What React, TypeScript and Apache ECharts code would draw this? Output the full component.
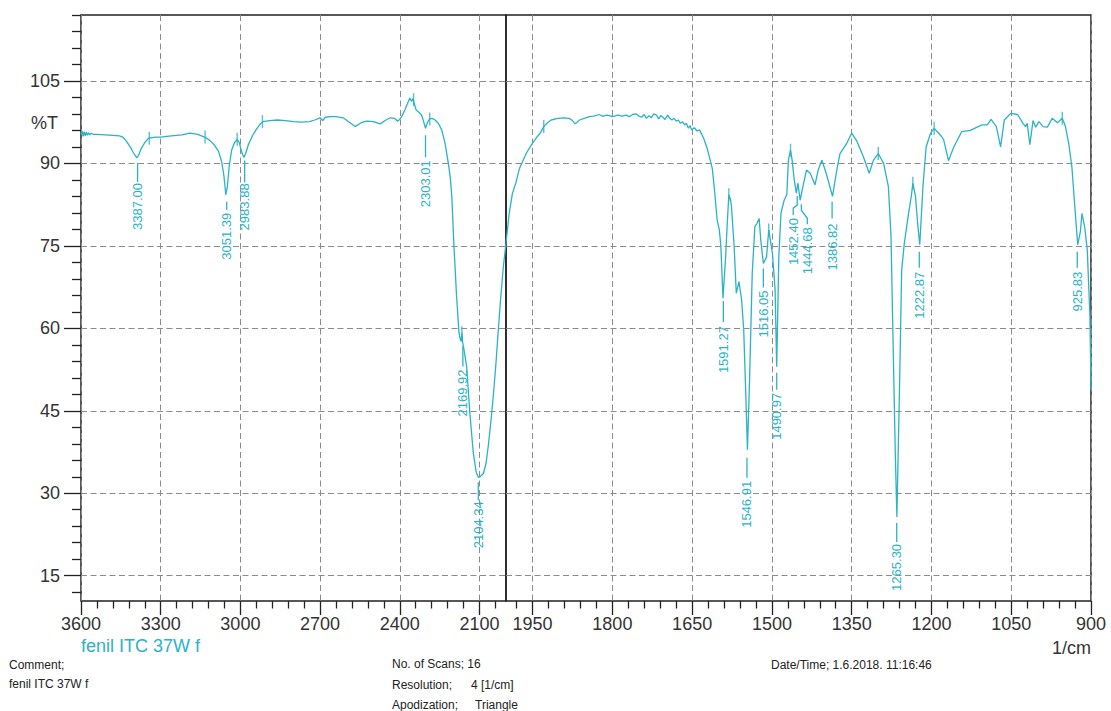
import React, { useEffect, useRef } from 'react';
import * as echarts from 'echarts';

const TEAL = '#2ab3c7';
const FONT = '"Liberation Sans", Arial, sans-serif';

// Spectrum, high-wavenumber part (3600 → 2000 cm-1)
const leftWavenumbers = [
  3600, 3596, 3592, 3588, 3584, 3580, 3576, 3572, 3567, 3562, 3555, 3540, 3510, 3480, 3455, 3443,
  3430, 3415, 3402, 3390, 3384, 3375, 3360, 3345, 3320, 3300, 3260, 3220, 3190, 3160, 3135, 3115,
  3097, 3082, 3070, 3062, 3055, 3049, 3042, 3033, 3022, 3012, 3004, 2996, 2987, 2980, 2970, 2955,
  2940, 2925, 2915, 2890, 2860, 2830, 2800, 2770, 2740, 2720, 2700, 2690, 2680, 2660, 2640, 2613,
  2590, 2568, 2545, 2524, 2500, 2474, 2455, 2436, 2420, 2409, 2400, 2392, 2380, 2370, 2362, 2356,
  2350, 2345, 2338, 2328, 2318, 2310, 2303, 2296, 2288, 2278, 2267, 2255, 2242, 2230, 2217, 2210,
  2204, 2196, 2186, 2177, 2172, 2169, 2166, 2163, 2156, 2148, 2136, 2123, 2112, 2104, 2098, 2085,
  2075, 2067, 2058, 2048, 2038, 2029, 2020, 2010, 2000,
];
const leftTransmittance = [
  95.3, 95.9, 94.9, 95.8, 95.0, 95.7, 95.1, 95.6, 95.2, 95.5, 95.3, 95.3, 95.2, 95.1, 95.0, 94.8,
  94.1, 93.0, 91.9, 91.0, 91.4, 92.5, 93.8, 94.6, 94.8, 94.8, 95.0, 95.2, 95.5, 95.3, 94.8, 94.2,
  93.3, 92.2, 90.2, 87.8, 84.3, 85.8, 89.5, 92.4, 93.8, 94.4, 93.8, 92.2, 91.1, 91.8, 93.4, 95.0,
  96.2, 97.2, 97.6, 97.8, 97.9, 97.8, 97.6, 97.5, 97.6, 97.9, 98.3, 97.8, 98.4, 98.5, 98.5, 98.3,
  97.5, 96.7, 97.4, 97.7, 97.6, 97.2, 97.8, 98.3, 98.2, 97.7, 98.0, 98.6, 99.8, 101.0, 101.9, 101.3,
  101.8, 100.8, 99.7, 99.3, 98.8, 97.6, 96.4, 97.4, 98.1, 98.2, 97.9, 97.3, 96.1, 93.8, 90.0, 87.5,
  84.0, 75.0, 65.8, 59.2, 58.0, 57.6, 59.2, 57.4, 55.5, 53.0, 44.5, 37.3, 33.8, 32.9, 33.0, 33.6,
  35.5, 38.5, 42.5, 47.6, 53.5, 59.7, 65.5, 71.2, 75.5,
];

// Spectrum, low-wavenumber part (2000 → 900 cm-1)
const rightWavenumbers = [
  2000, 1994, 1988, 1981, 1975, 1969, 1962, 1956, 1950, 1941, 1935, 1929, 1922, 1915, 1903, 1892,
  1881, 1875, 1870, 1865, 1862, 1850, 1843, 1835, 1825, 1818, 1810, 1799, 1790, 1782, 1774, 1768,
  1762, 1755, 1750, 1745, 1740, 1736, 1731, 1727, 1722, 1717, 1713, 1709, 1705, 1701, 1696, 1692,
  1688, 1684, 1680, 1676, 1672, 1668, 1664, 1661, 1657, 1654, 1651, 1646, 1641, 1636, 1628, 1622,
  1616, 1612, 1608, 1603, 1599, 1596, 1592, 1587, 1584, 1581, 1578, 1576, 1571, 1567, 1562, 1557,
  1553, 1549, 1546, 1542, 1537, 1532, 1528, 1524, 1521, 1516, 1510, 1506, 1503, 1499, 1494, 1491,
  1487, 1483, 1477, 1472, 1469, 1465, 1462, 1458, 1454, 1451, 1447, 1441, 1435, 1428, 1419, 1413,
  1406, 1397, 1386, 1378, 1372, 1359, 1350, 1340, 1328, 1317, 1309, 1300, 1290, 1281, 1276, 1273,
  1268, 1265, 1260, 1256, 1251, 1243, 1238, 1235, 1230, 1226, 1222, 1216, 1210, 1202, 1195, 1181,
  1177, 1168, 1158, 1143, 1127, 1105, 1095, 1088, 1078, 1070, 1063, 1051, 1038, 1028, 1023, 1020,
  1015, 1009, 1004, 998, 990, 982, 973, 963, 954, 948, 942, 936, 929, 925, 920, 917,
  912, 907, 902, 900,
];
const rightTransmittance = [
  75.5, 80.9, 84.5, 86.6, 89.0, 90.3, 91.8, 92.8, 93.7, 94.9, 95.6, 96.7, 97.4, 97.9, 98.2, 98.3,
  98.2, 97.8, 97.2, 97.6, 97.9, 98.3, 98.5, 98.6, 98.9, 98.6, 98.8, 98.5, 98.8, 98.6, 98.8, 98.5,
  98.9, 99.0, 98.6, 98.4, 98.9, 98.2, 98.7, 98.3, 99.0, 98.8, 98.1, 98.7, 98.4, 98.0, 98.8, 98.2,
  97.9, 98.2, 97.7, 97.9, 97.3, 97.6, 97.0, 97.3, 96.4, 96.9, 96.1, 96.5, 95.9, 96.1, 94.5, 92.8,
  90.6, 89.0, 85.2, 79.7, 78.0, 75.0, 65.5, 73.0, 79.0, 84.3, 83.5, 82.1, 74.9, 66.4, 68.5, 65.2,
  59.7, 47.6, 37.9, 50.6, 70.0, 78.5, 79.1, 80.0, 76.1, 71.8, 73.0, 77.9, 76.1, 73.6, 67.0, 53.0,
  73.0, 80.9, 83.3, 84.3, 90.6, 92.4, 90.6, 87.0, 84.6, 86.4, 83.3, 86.1, 88.8, 88.2, 86.1, 88.8,
  90.6, 87.9, 84.0, 88.8, 91.8, 93.7, 95.5, 94.0, 91.2, 88.2, 90.6, 91.8, 90.0, 85.8, 76.7, 61.5,
  37.3, 25.7, 49.4, 70.6, 75.5, 80.9, 84.0, 86.4, 84.0, 79.1, 75.2, 85.8, 93.0, 95.4, 96.4, 94.9,
  94.3, 90.5, 93.0, 95.8, 96.0, 97.0, 97.0, 98.0, 96.7, 93.0, 97.9, 99.1, 98.9, 97.3, 96.7, 97.3,
  93.4, 97.8, 96.6, 97.6, 96.7, 96.6, 98.2, 97.4, 98.2, 96.7, 93.7, 89.4, 80.3, 75.2, 77.6, 80.9,
  78.5, 74.3, 62.1, 48.8,
];

// Peak picks
const peakLabels = [
  '3387.00', '3051.39', '2983.88', '2303.01', '2169.92', '2104.34',
  '1591.27', '1546.91', '1516.05', '1490.97', '1452.40', '1444.68', '1386.82', '1265.30', '1222.87', '925.83',
];
const peakWavenumbers = [
  3387.0, 3051.39, 2983.88, 2303.01, 2169.92, 2104.34,
  1591.27, 1546.91, 1516.05, 1490.97, 1452.4, 1444.68, 1386.82, 1265.3, 1222.87, 925.83,
];
const peakTransmittance = [
  91.0, 84.3, 91.1, 96.4, 57.6, 32.9,
  65.5, 37.9, 71.8, 53.0, 84.6, 83.3, 84.0, 25.7, 75.2, 75.2,
];

// Integration marks on the curve
const leftMarkWavenumbers = [3343, 3133, 3012, 2917, 2348, 2287, 2166];
const leftMarkTransmittance = [94.6, 94.8, 94.4, 97.6, 101.6, 98.1, 59.2];
const rightMarkWavenumbers = [1929, 1581, 1506, 1465, 1300, 1235, 1195, 954];
const rightMarkTransmittance = [96.7, 84.3, 77.9, 92.4, 91.8, 86.4, 96.4, 98.2];

// Axis ticks
const leftTickLabels = [3600, 3300, 3000, 2700, 2400, 2100];
const rightTickLabels = [1950, 1800, 1650, 1500, 1350, 1200, 1050, 900];
const leftMinorTicks = [
  3540, 3480, 3420, 3360, 3240, 3180, 3120, 3060, 2940, 2880, 2820, 2760,
  2640, 2580, 2520, 2460, 2340, 2280, 2220, 2160, 2040,
];
const rightMinorTicks = [
  1980, 1920, 1890, 1860, 1830, 1770, 1740, 1710, 1680, 1620, 1590, 1560, 1530,
  1470, 1440, 1410, 1380, 1320, 1290, 1260, 1230, 1170, 1140, 1110, 1080, 1020, 990, 960, 930,
];
const yTickLabels = [15, 30, 45, 60, 75, 90, 105];
const yMinorTicks = [
  12, 18, 21, 24, 27, 33, 36, 39, 42, 48, 51, 54, 57, 63, 66, 69, 72, 78, 81, 84, 87,
  93, 96, 99, 102, 108, 111, 114, 117,
];

// Label leader layout (pixel offsets relative to each peak point) – presentation only
const peakLabelLayout = [
  { line: [[0, 5], [0, 24]], tx: 0, ty: 25 },
  { line: [[0, 7], [0, 15]], tx: 0, ty: 18 },
  { line: [[0, 3], [0, 25]], tx: 0, ty: 26 },
  { line: [[0, 7], [0, 29]], tx: 0, ty: 32 },
  { line: [[2, 5], [2, 25]], tx: 2, ty: 28 },
  { line: [[0, 5], [0, 23]], tx: 0, ty: 24 },
  { line: [[0, 3], [0, 24]], tx: 0, ty: 28 },
  { line: [[0, 8], [0, 28]], tx: 0, ty: 31 },
  { line: [[0, 5], [0, 24]], tx: 0, ty: 27 },
  { line: [[0, 6], [0, 23]], tx: 0, ty: 26 },
  { line: [[0, 3], [0, 12], [-4, 15], [-4, 22]], tx: -4, ty: 25 },
  { line: [[0, 4], [0, 10], [6, 18], [6, 24]], tx: 6, ty: 27 },
  { line: [[0, 5], [0, 22]], tx: 0, ty: 27 },
  { line: [[0, 6], [0, 25]], tx: 0, ty: 27 },
  { line: [[0, 7], [0, 23]], tx: 0, ty: 27 },
  { line: [[0, 7], [0, 23]], tx: 0, ty: 27 },
];

const Y_MIN = 10.4;
const Y_MAX = 117;

function buildOption() {
  const pairs = (xs: number[], ys: number[]) => xs.map((x, i) => [x, ys[i]]);
  const peakIdx = peakWavenumbers.map((_, i) => i);
  const leftPeaks = peakIdx.filter((i) => peakWavenumbers[i] >= 2000).map((i) => [peakWavenumbers[i], peakTransmittance[i], i]);
  const rightPeaks = peakIdx.filter((i) => peakWavenumbers[i] < 2000).map((i) => [peakWavenumbers[i], peakTransmittance[i], i]);

  const renderPeak = (params: any, api: any) => {
    const i = api.value(2);
    const p = api.coord([api.value(0), api.value(1)]);
    const L = peakLabelLayout[i];
    return {
      type: 'group',
      children: [
        {
          type: 'polyline',
          shape: { points: L.line.map(([dx, dy]) => [p[0] + dx, p[1] + dy]) },
          style: { stroke: TEAL, lineWidth: 1.3, fill: null },
        },
        {
          type: 'text',
          x: p[0] + L.tx,
          y: p[1] + L.ty,
          rotation: Math.PI / 2,
          style: {
            text: peakLabels[i],
            fill: TEAL,
            fontSize: 13,
            fontFamily: FONT,
            align: 'right',
            verticalAlign: 'middle',
          },
        },
      ],
    };
  };

  const splitLine = { show: true, lineStyle: { color: '#8c8c8c', width: 1, type: [6, 3.5] } };
  const labelStyle = { color: '#333', fontSize: 18, fontFamily: FONT };

  const textEl = (x: number, y: number, text: string, opts: any = {}) => ({
    type: 'text',
    x,
    y,
    silent: true,
    style: {
      text,
      fill: opts.fill || '#222',
      fontSize: opts.fontSize || 12,
      fontFamily: FONT,
      align: opts.align || 'left',
      verticalAlign: 'middle',
    },
  });

  return {
    animation: false,
    backgroundColor: '#ffffff',
    grid: [
      { left: 81, top: 15, width: 425, height: 586, show: true, borderColor: '#222', borderWidth: 1.5, backgroundColor: 'transparent' },
      { left: 506, top: 15, width: 585, height: 586, show: true, borderColor: '#222', borderWidth: 1.5, backgroundColor: 'transparent' },
    ],
    xAxis: [
      {
        type: 'value', gridIndex: 0, min: 2000, max: 3600, inverse: true, position: 'bottom',
        axisLine: { show: false },
        axisTick: { show: true, length: 14, customValues: leftTickLabels, lineStyle: { color: '#222', width: 1.3 } },
        axisLabel: { customValues: leftTickLabels, margin: 14, formatter: (v: number) => String(v), ...labelStyle },
        splitLine,
      },
      {
        type: 'value', gridIndex: 1, min: 900, max: 2000, inverse: true, position: 'bottom',
        axisLine: { show: false },
        axisTick: { show: true, length: 14, customValues: rightTickLabels, lineStyle: { color: '#222', width: 1.3 } },
        axisLabel: { customValues: rightTickLabels, margin: 14, formatter: (v: number) => String(v), ...labelStyle },
        splitLine,
      },
      {
        type: 'value', gridIndex: 0, min: 2000, max: 3600, inverse: true, position: 'bottom',
        axisLine: { show: false },
        axisTick: { show: true, length: 7.5, customValues: leftMinorTicks, lineStyle: { color: '#222', width: 1.3 } },
        axisLabel: { show: false },
        splitLine: { show: false },
      },
      {
        type: 'value', gridIndex: 1, min: 900, max: 2000, inverse: true, position: 'bottom',
        axisLine: { show: false },
        axisTick: { show: true, length: 7.5, customValues: rightMinorTicks, lineStyle: { color: '#222', width: 1.3 } },
        axisLabel: { show: false },
        splitLine: { show: false },
      },
    ],
    yAxis: [
      {
        type: 'value', gridIndex: 0, min: Y_MIN, max: Y_MAX, position: 'left',
        axisLine: { show: false },
        axisTick: { show: true, length: 17, customValues: yTickLabels, lineStyle: { color: '#222', width: 1.3 } },
        axisLabel: { customValues: yTickLabels, margin: 21, ...labelStyle },
        splitLine,
      },
      {
        type: 'value', gridIndex: 0, min: Y_MIN, max: Y_MAX, position: 'left',
        axisLine: { show: false },
        axisTick: { show: true, length: 9, customValues: yMinorTicks, lineStyle: { color: '#222', width: 1.3 } },
        axisLabel: { show: false },
        splitLine: { show: false },
      },
      {
        type: 'value', gridIndex: 1, min: Y_MIN, max: Y_MAX, position: 'left',
        axisLine: { show: false },
        axisTick: { show: false, customValues: yTickLabels },
        axisLabel: { show: false, customValues: yTickLabels },
        splitLine,
      },
    ],
    series: [
      {
        type: 'line', xAxisIndex: 0, yAxisIndex: 0, showSymbol: false, silent: true,
        data: pairs(leftWavenumbers, leftTransmittance),
        lineStyle: { color: TEAL, width: 1.3 }, z: 3,
      },
      {
        type: 'line', xAxisIndex: 1, yAxisIndex: 2, showSymbol: false, silent: true,
        data: pairs(rightWavenumbers, rightTransmittance),
        lineStyle: { color: TEAL, width: 1.3 }, z: 3,
      },
      {
        type: 'scatter', xAxisIndex: 0, yAxisIndex: 0, symbol: 'rect', symbolSize: [1.4, 13], silent: true,
        itemStyle: { color: TEAL }, data: pairs(leftMarkWavenumbers, leftMarkTransmittance), z: 4,
      },
      {
        type: 'scatter', xAxisIndex: 1, yAxisIndex: 2, symbol: 'rect', symbolSize: [1.4, 13], silent: true,
        itemStyle: { color: TEAL }, data: pairs(rightMarkWavenumbers, rightMarkTransmittance), z: 4,
      },
      {
        type: 'custom', xAxisIndex: 0, yAxisIndex: 0, silent: true, clip: false, z: 5,
        data: leftPeaks, renderItem: renderPeak,
      },
      {
        type: 'custom', xAxisIndex: 1, yAxisIndex: 2, silent: true, clip: false, z: 5,
        data: rightPeaks, renderItem: renderPeak,
      },
    ],
    graphic: [
      textEl(58, 123, '%T', { fontSize: 18, fill: '#333', align: 'right' }),
      textEl(81, 646, 'fenil ITC 37W f', { fontSize: 18, fill: TEAL }),
      textEl(1091, 648, '1/cm', { fontSize: 18, fill: '#333', align: 'right' }),
      textEl(9, 665, 'Comment;'),
      textEl(9, 684, 'fenil ITC 37W f'),
      textEl(392, 664, 'No. of Scans; 16'),
      textEl(392, 685, 'Resolution;'),
      textEl(471, 685, '4 [1/cm]'),
      textEl(392, 705, 'Apodization;'),
      textEl(475, 705, 'Triangle'),
      textEl(771, 665, 'Date/Time; 1.6.2018. 11:16:46'),
    ],
  };
}

export default function App() {
  const ref = useRef<HTMLDivElement>(null);
  useEffect(() => {
    if (!ref.current) return;
    const chart = echarts.init(ref.current, null, { renderer: 'svg' });
    chart.setOption(buildOption() as any);
    return () => chart.dispose();
  }, []);
  return (
    <div
      ref={ref}
      style={{ position: 'absolute', left: 0, top: 0, width: 1111, height: 711, background: '#fff' }}
    />
  );
}
